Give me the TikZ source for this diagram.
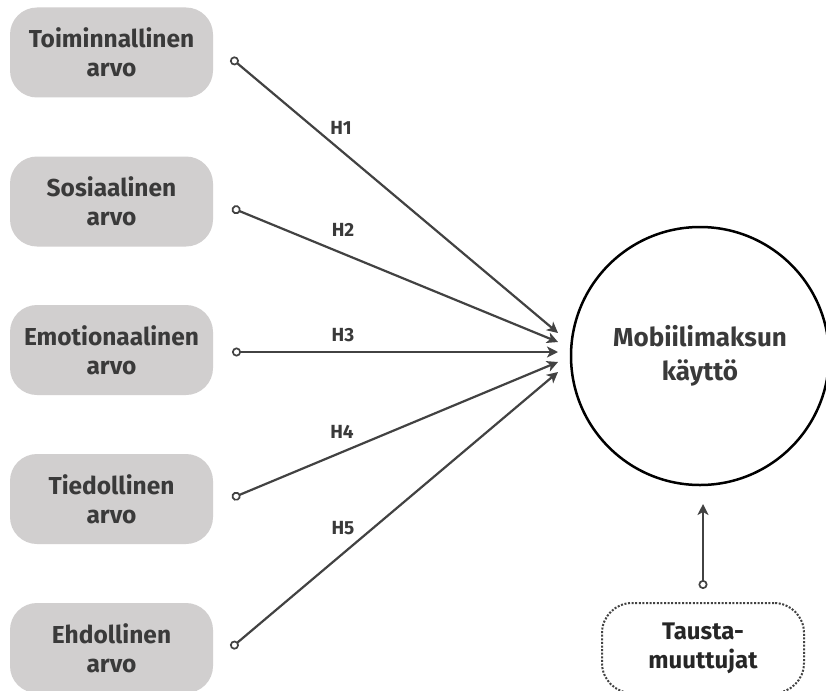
\documentclass[tikz,border=0pt]{standalone}
\usepackage{fontspec}
\setmainfont{Fira Sans}
\usetikzlibrary{arrows.meta}
\definecolor{fondgris}{RGB}{209,207,207}
\definecolor{texte}{RGB}{58,58,58}
\definecolor{trait}{RGB}{66,66,66}
\tikzset{
	valeur/.style	= {rectangle, rounded corners=27pt, fill=fondgris, minimum width=203pt, minimum height=90pt,
					   align=center, text=texte, font=\bfseries\fontsize{24.5}{29}\selectfont},
	lien/.style		= {draw=trait, line width=2.2pt,
					   {Circle[open, length=9pt, line width=1.7pt]}-{Stealth[length=11pt, width=11pt, inset=3pt]}},
	hyp/.style		= {text=texte, font=\bfseries\fontsize{19}{21}\selectfont},
}
\begin{document}
\begin{tikzpicture}[x=1pt, y=-1pt]
	% Cadre
	\useasboundingbox	(0,0)	rectangle	(826,690)	;
	\clip				(0,0)	rectangle	(826,690)	;
	\fill [white]		(0,0)	rectangle	(826,690)	;
	% Boites
	\node [valeur]	(toim)	at (111.5, 52.5)	{Toiminnallinen\\arvo}	;
	\node [valeur]	(sos)	at (111.5, 201.5)	{Sosiaalinen\\arvo}		;
	\node [valeur]	(emo)	at (111.5, 350)		{Emotionaalinen\\arvo}	;
	\node [valeur]	(tied)	at (111.5, 499)		{Tiedollinen\\arvo}		;
	\node [valeur]	(ehd)	at (111.5, 648)		{Ehdollinen\\arvo}		;
	% Cercle
	\node [circle, draw, line width=2.5pt, minimum size=258pt, inner sep=0pt, align=center, text=texte,
		   font=\bfseries\fontsize{26}{34}\selectfont]	(kaytto)	at (700, 356)	{Mobiilimaksun\\käyttö}	;
	% Taustamuuttujat
	\node [rectangle, rounded corners=30pt, draw=trait, line width=2pt, dash pattern=on 2pt off 1.6pt,
		   minimum width=202pt, minimum height=90pt, align=center, text=black!85,
		   font=\bfseries\fontsize{24}{29}\selectfont]	(taus)	at (703, 648)	{Tausta-\\muuttujat}	;
	% Extremites
	\coordinate (s1) at (231, 58)	;	\coordinate (e1) at (558, 333)	;
	\coordinate (s2) at (232, 208)	;	\coordinate (e2) at (558, 342)	;
	\coordinate (s3) at (232, 352)	;	\coordinate (e3) at (558, 352)	;
	\coordinate (s4) at (232, 498)	;	\coordinate (e4) at (558, 362)	;
	\coordinate (s5) at (231, 648)	;	\coordinate (e5) at (558, 372)	;
	\coordinate (s6) at (703, 589)	;	\coordinate (e6) at (703, 504)	;
	% Fleches
	\draw [lien]	(s1)	-- (e1);
	\draw [lien]	(s2)	-- (e2);
	\draw [lien]	(s3)	-- (e3);
	\draw [lien]	(s4)	-- (e4);
	\draw [lien]	(s5)	-- (e5);
	\draw [lien]	(s6)	-- (e6);
	% Hypotheses
	\node [hyp]	(h1)	at (341, 128)	{H1};
	\node [hyp]	(h2)	at (343, 230)	{H2};
	\node [hyp]	(h3)	at (343, 335)	{H3};
	\node [hyp]	(h4)	at (342, 432)	{H4};
	\node [hyp]	(h5)	at (343, 528)	{H5};
\end{tikzpicture}
\end{document}
